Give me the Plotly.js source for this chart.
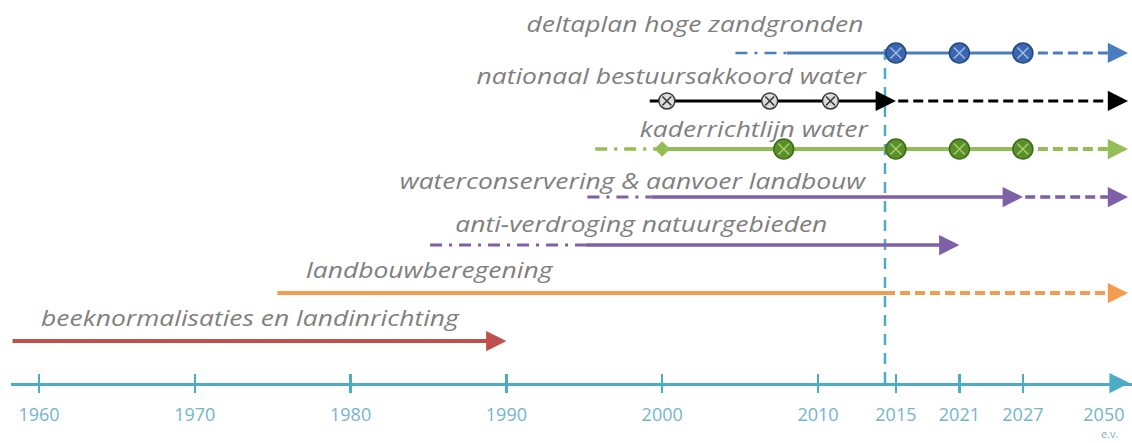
<!DOCTYPE html>
<html><head><meta charset="utf-8">
<script src="https://cdn.plot.ly/plotly-3.0.1.min.js"></script>
<style>html,body{margin:0;padding:0;background:#fff}#chart{width:1132px;height:443px}</style>
</head><body><div id="chart"></div>
<script>
// ---------------- data ----------------
const programmes = ['deltaplan hoge zandgronden', 'nationaal bestuursakkoord water', 'kaderrichtlijn water',
  'waterconservering & aanvoer landbouw', 'anti-verdroging natuurgebieden', 'landbouwberegening',
  'beeknormalisaties en landinrichting'];
const prepStart = [2004.7, null, 1995.7, 1995.2, 1985.1, null, null];     // dash-dot lead-in
const runStart = [2008, 1999.2, 2000, 1999.3, 1995.1, 1975.3, 1958.3];    // solid line begins
const runEnd = [2027, 2015, 2027, 2027, 2021, 2014.3, 1990];              // solid line ends
const continuesTo2050 = [true, true, true, true, false, true, false];      // dashed continuation
const arrowAtRunEnd = [false, true, false, true, true, false, true];
const milestoneYears = [[2015, 2021, 2027], [2000.3, 2006.9, 2010.8], [2007.8, 2015, 2021, 2027], [], [], [], []];
const startMarkerYears = [[], [], [2000], [], [], [], []];
const currentYear = 2014.3;
const tickYears = [1960, 1970, 1980, 1990, 2000, 2010, 2015, 2021, 2027, 2050];
const tickLabels = ['1960', '1970', '1980', '1990', '2000', '2010', '2015', '2021', '2027', '2050'];
const tickMarked = [true, true, true, true, true, true, true, true, true, false];
const eraNote = 'e.v.';

// ---------------- timeline scale (piecewise, as in the schematic axis) ----------------
const scaleYears = [1960, 2015, 2027, 2050];
const scaleUnits = [0, 55, 63.15, 68.35];
function u(year) {
  let i = 0;
  while (i < scaleYears.length - 2 && year > scaleYears[i + 1]) i++;
  const t = (year - scaleYears[i]) / (scaleYears[i + 1] - scaleYears[i]);
  return scaleUnits[i] + t * (scaleUnits[i + 1] - scaleUnits[i]);
}
const openEnd = 69.9;          // right edge of timeline (axis units)
const axisRow = -0.875;
const teal = '#4BACC6';
const headLen = 1.1;           // arrow tail length, axis units

// ---------------- styles ----------------
const styles = [
  {color: '#4A7CC0', width: 3, mk: {fill: '#3A67B0', edge: '#27477E', cross: '#9FBBE6', size: 20}},
  {color: '#000000', width: 3, mk: {fill: '#DCDCDC', edge: '#3A3A3A', cross: '#3A3A3A', size: 16}},
  {color: '#93BE56', width: 4, mk: {fill: '#5A8F2A', edge: '#3D6A1A', cross: '#A3D06A', size: 20}},
  {color: '#7F5FA8', width: 3.5},
  {color: '#7F5FA8', width: 3.5},
  {color: '#F39B4F', width: 4},
  {color: '#C0504D', width: 4}
];
const labelPos = [
  {x: 865, y: 24, anchor: 'right'},
  {x: 868, y: 76, anchor: 'right'},
  {x: 870, y: 129, anchor: 'right'},
  {x: 868, y: 181, anchor: 'right'},
  {x: 828, y: 224, anchor: 'right'},
  {x: 305, y: 270, anchor: 'left'},
  {x: 40, y: 318, anchor: 'left'}
];
const labelStretch = 1.26;

const W = 1132, H = 443, B = 60, PH = H - B;
const traces = [];
const annotations = [];
const labelIndex = {};

// current-year marker
traces.push({x: [u(currentYear), u(currentYear)], y: [axisRow, 6.1], mode: 'lines',
  line: {color: teal, width: 2.5, dash: '11px,8px'}, hoverinfo: 'skip', showlegend: false});

function arrow(xTip, row, color, size) {
  annotations.push({x: xTip, y: row, ax: xTip - headLen, ay: row, xref: 'x', yref: 'y', axref: 'x', ayref: 'y',
    text: '', showarrow: true, arrowhead: 2, arrowsize: size, arrowwidth: 3, arrowcolor: color, standoff: 0});
}

programmes.forEach((name, i) => {
  const row = programmes.length - 1 - i;
  const s = styles[i];
  if (prepStart[i] !== null) {
    traces.push({x: [u(prepStart[i]), u(runStart[i])], y: [row, row], mode: 'lines',
      line: {color: s.color, width: s.width - 0.5, dash: '12px,7px,3px,7px'}, hoverinfo: 'skip', showlegend: false});
  }
  const endX = u(runEnd[i]);
  traces.push({x: [u(runStart[i]), arrowAtRunEnd[i] ? endX - headLen : endX], y: [row, row], mode: 'lines',
    line: {color: s.color, width: s.width}, hoverinfo: 'skip', showlegend: false});
  if (arrowAtRunEnd[i]) arrow(endX, row, s.color, 1.35);
  if (continuesTo2050[i]) {
    traces.push({x: [arrowAtRunEnd[i] ? endX + 0.15 : endX, openEnd - headLen], y: [row, row], mode: 'lines',
      line: {color: s.color, width: s.width, dash: '10px,5px'}, hoverinfo: 'skip', showlegend: false});
    arrow(openEnd, row, s.color, 1.35);
  }
  if (startMarkerYears[i].length) {
    traces.push({x: startMarkerYears[i].map(u), y: startMarkerYears[i].map(() => row), mode: 'markers',
      marker: {symbol: 'diamond', size: 12, color: s.color}, hoverinfo: 'skip', showlegend: false});
  }
  if (milestoneYears[i].length) {
    const xs = milestoneYears[i].map(u), ys = milestoneYears[i].map(() => row);
    traces.push({x: xs, y: ys, mode: 'markers', hoverinfo: 'skip', showlegend: false,
      marker: {symbol: 'circle', size: s.mk.size, color: s.mk.fill, line: {color: s.mk.edge, width: 1.5}}});
    traces.push({x: xs, y: ys, mode: 'markers', hoverinfo: 'skip', showlegend: false,
      marker: {symbol: 'x-thin-open', size: s.mk.size * 0.55, color: s.mk.cross, line: {color: s.mk.cross, width: 1.5}}});
  }
  const lp = labelPos[i];
  labelIndex[annotations.length] = lp.anchor;
  annotations.push({text: name, xref: 'paper', yref: 'paper', x: lp.x / W, y: (PH - lp.y) / PH,
    xanchor: lp.anchor, yanchor: 'middle', showarrow: false, borderpad: 0,
    font: {family: 'Open Sans', size: 21, style: 'italic', color: '#7F7F7F'}});
});

// axis arrow
arrow(openEnd + 0.1, axisRow, teal, 1.35);

// "e.v." note under the last tick label
annotations.push({text: eraNote, xref: 'paper', yref: 'paper', x: 1110 / W, y: (PH - 433) / PH,
  xanchor: 'center', yanchor: 'middle', showarrow: false, borderpad: 0,
  font: {family: 'Open Sans', size: 11, color: '#72B5CD'}});

// helper traces to carry the tick-mark axes
const tickU = tickYears.filter((y, k) => tickMarked[k]).map(u);
traces.push({x: [tickU[0]], y: [axisRow], xaxis: 'x2', mode: 'markers', marker: {opacity: 0}, hoverinfo: 'skip', showlegend: false});
traces.push({x: [tickU[0]], y: [axisRow], xaxis: 'x3', mode: 'markers', marker: {opacity: 0}, hoverinfo: 'skip', showlegend: false});

const xr = [(11 - 39) / 15.58, (W - 39) / 15.58];
const tickAxis = side => ({overlaying: 'x', anchor: 'y', side: 'bottom', range: xr, domain: [11 / W, 1],
  tickmode: 'array', tickvals: tickU, ticktext: tickU.map(() => ''), ticks: side, ticklen: 9, tickwidth: 2.5,
  tickcolor: teal, showticklabels: false, showgrid: false, zeroline: false, showline: false, fixedrange: true});

const layout = {
  width: W, height: H, margin: {l: 0, r: 0, t: 0, b: B, pad: 0},
  paper_bgcolor: '#ffffff', plot_bgcolor: '#ffffff', showlegend: false,
  xaxis: {domain: [11 / W, 1], range: xr, tickmode: 'array', tickvals: tickYears.map(u), ticktext: tickLabels,
    ticks: '', showline: true, linecolor: teal, linewidth: 3, showgrid: false, zeroline: false,
    ticklabelstandoff: 13, tickfont: {family: 'Open Sans', size: 18, color: '#72B5CD'}, fixedrange: true},
  xaxis2: tickAxis('outside'),
  xaxis3: tickAxis('inside'),
  yaxis: {range: [axisRow, 7.104], visible: false, fixedrange: true},
  annotations: annotations
};

Plotly.newPlot('chart', traces, layout, {displayModeBar: false, staticPlot: true}).then(gd => {
  // the reference lettering is horizontally wide: stretch label text about its anchored edge
  gd.querySelectorAll('g.annotation').forEach(g => {
    const idx = g.getAttribute('data-index');
    if (!(idx in labelIndex)) return;
    const t = g.querySelector('text.annotation-text');
    if (!t) return;
    const bb = t.getBBox();
    const pivot = labelIndex[idx] === 'right' ? bb.x + bb.width : bb.x;
    const prev = t.getAttribute('transform') || '';
    t.setAttribute('transform', prev + ` translate(${pivot},0) scale(${labelStretch},1) translate(${-pivot},0)`);
  });
});
</script>
</body></html>
